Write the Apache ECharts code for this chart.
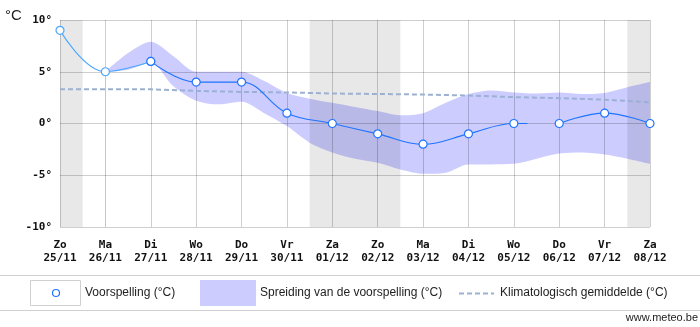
<!DOCTYPE html>
<html>
<head>
<meta charset="utf-8">
<script src="https://cdn.jsdelivr.net/npm/echarts@6/dist/echarts.min.js"></script>
<style>
html,body{margin:0;padding:0;background:#fff;}
#chart{width:700px;height:327px;}
</style>
</head>
<body>
<div id="chart"></div>
<script>
// Day labels (category index 0..13)
const dayNames = ['Zo','Ma','Di','Wo','Do','Vr','Za','Zo','Ma','Di','Wo','Do','Vr','Za'];
const dayDates = ['25/11','26/11','27/11','28/11','29/11','30/11','01/12','02/12','03/12','04/12','05/12','06/12','07/12','08/12'];
// y tick labels
const yTickValues = [-10, -5, 0, 5, 10];
const yTickLabels = ['-10°', '-5°', '0°', '5°', '10°'];

// Observed (past) part of the forecast line, days 0..2
const observedDays = [0, 1, 2];
const observedTemp = [9, 5, 6];
// Forecast, first piece (days 2..10, plus short tail), second piece (days 11..13)
const forecastDaysA = [2, 3, 4, 5, 6, 7, 8, 9, 10];
const forecastTempA = [6, 4, 4, 1, 0, -1, -2, -1, 0];
const forecastTailDay = 10.3;
const forecastTailTemp = 0;
const forecastDaysB = [11, 12, 13];
const forecastTempB = [0, 1, 0];

// Spread of the forecast, sampled every half day from day 1 to day 13
const bandDays = [1,1.5,2,2.5,3,3.5,4,4.5,5,5.5,6,6.5,7,7.5,8,8.5,9,9.5,10,10.5,11,11.5,12,12.5,13];
const bandHigh = [5,6.8,7.9,6.5,5.0,5.0,5.0,4.1,2.95,2.4,2.0,1.6,1.2,0.8,1.0,2.0,2.85,3.2,3.0,2.9,3.0,2.85,2.95,3.5,4.0];
const bandLow  = [5,5.2,5.85,3.6,2.2,1.85,2.1,1.0,-0.25,-1.85,-2.8,-3.4,-3.8,-4.45,-4.86,-4.75,-3.96,-3.96,-3.9,-3.4,-2.9,-2.8,-3.0,-3.4,-3.9];

// Climatological mean per day
const climDays = [0,1,2,3,4,5,6,7,8,9,10,11,12,13];
const climTemp = [3.3,3.3,3.3,3.15,3.05,3.0,2.9,2.85,2.8,2.7,2.55,2.45,2.3,2.05];

const zip = (xs, ys) => xs.map((x, i) => [x, ys[i]]);
const lastIdx = dayNames.length - 1;

// weekend shading derived from the day names
const weekendAreas = [];
dayNames.forEach((d, i) => {
  if (d === 'Za' || d === 'Zo') {
    weekendAreas.push([{ xAxis: Math.max(0, i - 0.5) }, { xAxis: Math.min(lastIdx, i + 0.5) }]);
  }
});

const chart = echarts.init(document.getElementById('chart'));
const monoFont = '"DejaVu Sans Mono", monospace';
const sansFont = '"Liberation Sans", Arial, sans-serif';
const splitColor = 'rgba(0,0,0,0.19)';
const fcColor = '#1f74ff';
const obsColor = '#4aa6ff';
const climColor = '#9cb0d4';

const forecastA = zip(forecastDaysA, forecastTempA);
forecastA.push({ value: [forecastTailDay, forecastTailTemp], symbol: 'none' });

chart.setOption({
  animation: false,
  grid: { left: 60, top: 20, width: 590, height: 207, show: false },
  xAxis: {
    type: 'value', min: 0, max: lastIdx, interval: 1, z: 4,
    axisLine: { show: false }, axisTick: { show: false },
    splitLine: { show: true, lineStyle: { color: splitColor, width: 1 } },
    axisLabel: {
      margin: 12, fontFamily: monoFont, fontWeight: 'bold', fontSize: 11, lineHeight: 13, color: '#111',
      formatter: v => (Number.isInteger(v) && dayNames[v] !== undefined) ? dayNames[v] + '\n' + dayDates[v] : ''
    }
  },
  yAxis: {
    type: 'value', min: -10, max: 10, interval: 5, z: 4,
    axisLine: { show: false }, axisTick: { show: false },
    splitLine: { show: true, lineStyle: { color: splitColor, width: 1 } },
    axisLabel: {
      margin: 8, fontFamily: monoFont, fontWeight: 'bold', fontSize: 11, color: '#111',
      formatter: v => { const k = yTickValues.indexOf(v); return k >= 0 ? yTickLabels[k] : ''; }
    }
  },
  series: [
    { // upper bound of the spread, filled down
      type: 'line', z: 2, data: zip(bandDays, bandHigh), smooth: 0.3, symbol: 'none',
      lineStyle: { width: 0, opacity: 0 },
      areaStyle: { color: '#ccccff', opacity: 1, origin: 'start' }
    },
    { // lower bound of the spread, erases below
      type: 'line', z: 2, data: zip(bandDays, bandLow), smooth: 0.3, symbol: 'none',
      lineStyle: { width: 0, opacity: 0 },
      areaStyle: { color: '#ffffff', opacity: 1, origin: 'start' }
    },
    { // weekend shading
      type: 'line', z: 3, data: [], symbol: 'none',
      markArea: { z: 3, silent: true, itemStyle: { color: 'rgba(0,0,0,0.09)' }, data: weekendAreas }
    },
    {
      type: 'line', z: 5, data: zip(climDays, climTemp), symbol: 'none',
      lineStyle: { color: climColor, width: 2, type: [5, 3] }
    },
    {
      type: 'line', z: 9, data: zip(observedDays, observedTemp), smooth: 0.4,
      symbol: 'circle', symbolSize: 8,
      lineStyle: { color: obsColor, width: 1.1 },
      itemStyle: { color: '#fff', borderColor: obsColor, borderWidth: 1.2 }
    },
    {
      type: 'line', z: 10, data: forecastA, smooth: 0.4,
      symbol: 'circle', symbolSize: 8,
      lineStyle: { color: fcColor, width: 1.1 },
      itemStyle: { color: '#fff', borderColor: fcColor, borderWidth: 1.2 }
    },
    {
      type: 'line', z: 10, data: zip(forecastDaysB, forecastTempB), smooth: 0.4,
      symbol: 'circle', symbolSize: 8,
      lineStyle: { color: fcColor, width: 1.1 },
      itemStyle: { color: '#fff', borderColor: fcColor, borderWidth: 1.2 }
    }
  ],
  graphic: [
    { type: 'text', left: 5, top: 8, style: { text: '°C', font: '15px ' + sansFont, fill: '#222' } },
    { type: 'line', shape: { x1: 0, y1: 275.5, x2: 700, y2: 275.5 }, style: { stroke: '#d0d0d0', lineWidth: 1 } },
    { type: 'line', shape: { x1: 0, y1: 310.5, x2: 700, y2: 310.5 }, style: { stroke: '#d0d0d0', lineWidth: 1 } },
    { type: 'rect', shape: { x: 30.5, y: 280.5, width: 50, height: 25 }, style: { fill: '#fff', stroke: '#d0d0d0', lineWidth: 1 } },
    { type: 'circle', shape: { cx: 56, cy: 293, r: 3.5 }, style: { fill: '#fff', stroke: fcColor, lineWidth: 1.2 } },
    { type: 'text', x: 85, y: 293, style: { text: 'Voorspelling (°C)', font: '12px ' + sansFont, fill: '#222', textVerticalAlign: 'middle' } },
    { type: 'rect', shape: { x: 200, y: 280, width: 56, height: 26 }, style: { fill: '#ccccff' } },
    { type: 'text', x: 260, y: 293, style: { text: 'Spreiding van de voorspelling (°C)', font: '12px ' + sansFont, fill: '#222', textVerticalAlign: 'middle' } },
    { type: 'line', shape: { x1: 459, y1: 293.5, x2: 494, y2: 293.5 }, style: { stroke: climColor, lineWidth: 2, lineDash: [5, 3] } },
    { type: 'text', x: 500, y: 293, style: { text: 'Klimatologisch gemiddelde (°C)', font: '12px ' + sansFont, fill: '#222', textVerticalAlign: 'middle' } },
    { type: 'text', right: 2, top: 312, style: { text: 'www.meteo.be', font: '11px ' + sansFont, fill: '#222' } }
  ]
});
</script>
</body>
</html>
